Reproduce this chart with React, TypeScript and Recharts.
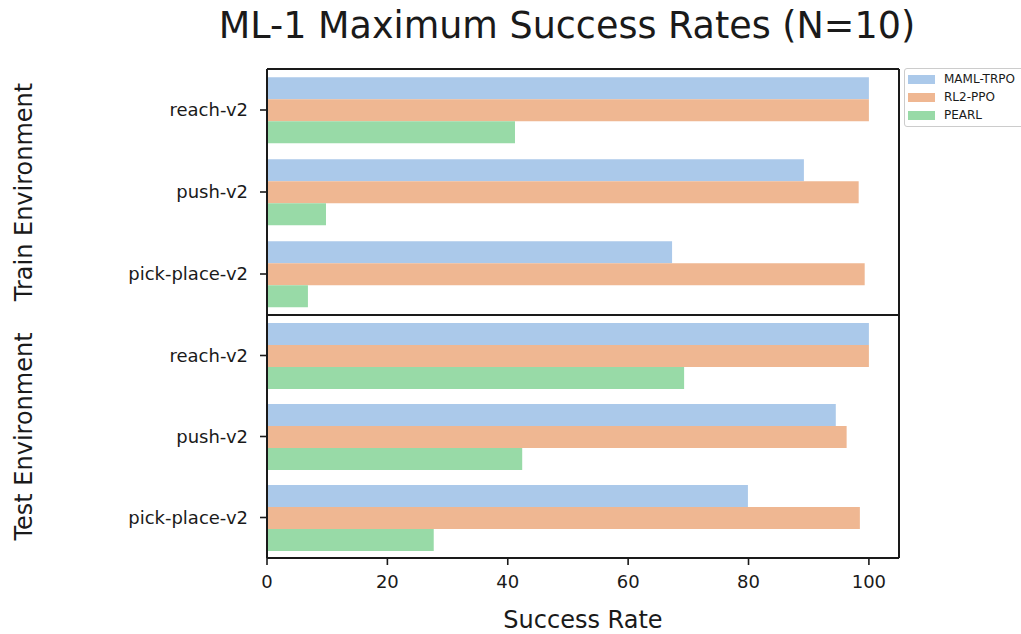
import React from 'react';
import { BarChart, Bar, XAxis, YAxis, Legend } from 'recharts';

const categories = ['reach-v2', 'push-v2', 'pick-place-v2'];
const seriesNames = ['MAML-TRPO', 'RL2-PPO', 'PEARL'];
const seriesColors = ['#abc9ea', '#efb792', '#98daa7'];

const trainMaml = [100, 89.2, 67.3];
const trainRl2 = [100, 98.3, 99.3];
const trainPearl = [41.2, 9.8, 6.8];

const testMaml = [100, 94.5, 79.9];
const testRl2 = [100, 96.3, 98.5];
const testPearl = [69.3, 42.4, 27.7];

const xTicks = [0, 20, 40, 60, 80, 100];

const trainData = categories.map((env, i) => ({
  env,
  maml: trainMaml[i],
  rl2: trainRl2[i],
  pearl: trainPearl[i],
}));
const testData = categories.map((env, i) => ({
  env,
  maml: testMaml[i],
  rl2: testRl2[i],
  pearl: testPearl[i],
}));

const FONT = '"DejaVu Sans", sans-serif';
const INK = '#1a1a1a';
const axisLine = { stroke: INK, strokeWidth: 2 };
const tickLine = { stroke: INK, strokeWidth: 1.6 };

const renderLegend = (props: any) => {
  const payload = [...(props.payload || [])].sort(
    (a: any, b: any) => seriesNames.indexOf(a.value) - seriesNames.indexOf(b.value)
  );
  return (
    <div
      style={{
        border: '1px solid #cccccc',
        borderRadius: 3,
        background: 'rgba(255,255,255,0.8)',
        padding: '1px 6px 2px 3px',
        fontFamily: FONT,
        fontSize: 12,
        color: INK,
        boxSizing: 'border-box',
      }}
    >
      {payload.map((p: any) => (
        <div key={p.value} style={{ display: 'flex', alignItems: 'center', height: 18, whiteSpace: 'nowrap' }}>
          <span style={{ display: 'inline-block', width: 27, height: 9, background: p.color, marginRight: 9 }} />
          <span>{p.value}</span>
        </div>
      ))}
    </div>
  );
};

export default function App() {
  const keys = ['maml', 'rl2', 'pearl'];
  const bars = keys.map((k, i) => (
    <Bar key={k} dataKey={k} name={seriesNames[i]} fill={seriesColors[i]} isAnimationActive={false} />
  ));
  return (
    <div style={{ position: 'absolute', left: 0, top: 0, width: 1021, height: 634, background: '#fff', fontFamily: FONT }}>
      <svg width={1021} height={60} style={{ position: 'absolute', left: 0, top: 0 }}>
        <text x={567} y={38} textAnchor="middle" fontFamily={FONT} fontSize={36.5} fill={INK}>
          ML-1 Maximum Success Rates (N=10)
        </text>
      </svg>

      <div style={{ position: 'absolute', left: 0, top: 0 }}>
        <BarChart
          width={1021}
          height={320}
          data={trainData}
          layout="vertical"
          margin={{ top: 68, right: 121, bottom: 4, left: 10 }}
          barCategoryGap="10%"
          barGap={0}
        >
          <XAxis type="number" domain={[0, 105]} ticks={xTicks} tick={false} tickLine={false} axisLine={axisLine} height={1} />
          <XAxis xAxisId="top" orientation="top" type="number" domain={[0, 105]} ticks={xTicks} tick={false} tickLine={false} axisLine={axisLine} height={1} />
          <YAxis
            type="category"
            dataKey="env"
            width={257}
            axisLine={axisLine}
            tickLine={tickLine}
            tickSize={7}
            tickMargin={12}
            tick={{ fontSize: 18, fill: INK, fontFamily: FONT }}
            label={{
              value: 'Train Environment',
              angle: -90,
              position: 'insideLeft',
              offset: 13,
              style: { textAnchor: 'middle', fontSize: 24, fill: INK, fontFamily: FONT },
            }}
          />
          <YAxis yAxisId="right" orientation="right" type="category" dataKey="env" width={1} tick={false} tickLine={false} axisLine={axisLine} />
          <Legend
            layout="vertical"
            align="center"
            verticalAlign="middle"
            content={renderLegend}
            wrapperStyle={{ left: 904, top: 68, width: 120, height: 'auto' }}
          />
          {bars}
        </BarChart>
      </div>

      <div style={{ position: 'absolute', left: 0, top: 305 }}>
        <BarChart
          width={1021}
          height={329}
          data={testData}
          layout="vertical"
          margin={{ top: 9, right: 121, bottom: 6, left: 10 }}
          barCategoryGap="10%"
          barGap={0}
        >
          <XAxis
            type="number"
            domain={[0, 105]}
            ticks={xTicks}
            axisLine={axisLine}
            tickLine={tickLine}
            tickSize={7}
            tickMargin={10}
            height={70}
            tick={{ fontSize: 18, fill: INK, fontFamily: FONT }}
            label={{
              value: 'Success Rate',
              position: 'insideBottom',
              offset: 0,
              style: { fontSize: 24, fill: INK, fontFamily: FONT },
            }}
          />
          <XAxis xAxisId="top" orientation="top" type="number" domain={[0, 105]} ticks={xTicks} tick={false} tickLine={false} axisLine={axisLine} height={1} />
          <YAxis
            type="category"
            dataKey="env"
            width={257}
            axisLine={axisLine}
            tickLine={tickLine}
            tickSize={7}
            tickMargin={12}
            tick={{ fontSize: 18, fill: INK, fontFamily: FONT }}
            label={{
              value: 'Test Environment',
              angle: -90,
              position: 'insideLeft',
              offset: 13,
              style: { textAnchor: 'middle', fontSize: 24, fill: INK, fontFamily: FONT },
            }}
          />
          <YAxis yAxisId="right" orientation="right" type="category" dataKey="env" width={1} tick={false} tickLine={false} axisLine={axisLine} />
          {bars}
        </BarChart>
      </div>
    </div>
  );
}
